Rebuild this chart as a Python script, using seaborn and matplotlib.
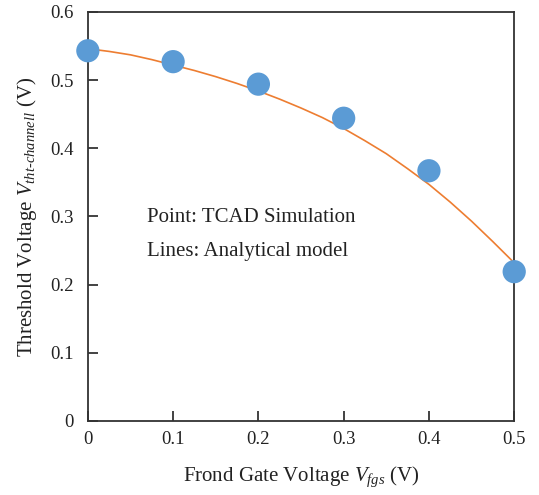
import matplotlib
matplotlib.use("Agg")
import matplotlib.pyplot as plt
import matplotlib.ticker as mticker
import numpy as np
import pandas as pd
import seaborn as sns

# TCAD simulation points
vfgs_sim = [0.0, 0.1, 0.2, 0.3, 0.4, 0.5]
vth_sim = [0.543, 0.527, 0.494, 0.444, 0.367, 0.219]

# analytical model curve
vfgs_model = [0.0, 0.025, 0.05, 0.075, 0.1, 0.125, 0.15, 0.175, 0.2, 0.225, 0.25,
              0.275, 0.3, 0.325, 0.35, 0.375, 0.4, 0.425, 0.45, 0.475, 0.5]
vth_model = [0.546, 0.542, 0.537, 0.530, 0.522, 0.514, 0.505, 0.495, 0.484, 0.472, 0.459,
             0.445, 0.429, 0.411, 0.392, 0.370, 0.347, 0.321, 0.293, 0.263, 0.232]

x_ticks = [0, 0.1, 0.2, 0.3, 0.4, 0.5]
y_ticks = [0, 0.1, 0.2, 0.3, 0.4, 0.5, 0.6]

sns.set_style("ticks")
plt.rcParams['font.family'] = ['Liberation Serif', 'DejaVu Serif']
plt.rcParams['mathtext.fontset'] = 'custom'
plt.rcParams['mathtext.rm'] = 'Liberation Serif'
plt.rcParams['mathtext.it'] = 'Liberation Serif:italic'

sim_df = pd.DataFrame({'x': vfgs_sim, 'y': vth_sim})
model_df = pd.DataFrame({'x': vfgs_model, 'y': vth_model})

fig = plt.figure(figsize=(5.39, 4.95), dpi=100)
ax = fig.add_axes([0.163, 0.1495, 0.791, 0.8265])

sns.lineplot(data=model_df, x='x', y='y', ax=ax, color='#ED7D31', linewidth=1.2, zorder=2)
sns.scatterplot(data=sim_df, x='x', y='y', ax=ax, color='#5B9BD5', s=280,
                edgecolor='none', zorder=3, clip_on=False)

ax.set_xlim(0, 0.5)
ax.set_ylim(0, 0.6)
ax.set_xticks(x_ticks)
ax.set_yticks(y_ticks)
fmt = mticker.FuncFormatter(lambda v, p: f"{v:g}")
ax.xaxis.set_major_formatter(fmt)
ax.yaxis.set_major_formatter(fmt)
ax.tick_params(axis='x', direction='in', length=7, width=1.2, pad=7, labelsize=13.5, colors='#222222')
ax.tick_params(axis='y', direction='in', length=7, width=1.2, pad=10, labelsize=13.5, colors='#222222')

for s in ax.spines.values():
    s.set_visible(True)
    s.set_linewidth(1.3)
    s.set_color('#333333')

ax.set_xlabel('Frond Gate Voltage $V_{fgs}$ (V)', fontsize=15, color='#222222', labelpad=12)
ax.set_ylabel('Threshold Voltage $V_{tht\\text{-}channell}$ (V)', fontsize=15, color='#222222', labelpad=8)

ax.text(0.069, 0.298, 'Point: TCAD Simulation', fontsize=15, va='center', color='#222222')
ax.text(0.069, 0.248, 'Lines: Analytical model', fontsize=15, va='center', color='#222222')

fig.savefig('out.png', dpi=100)
